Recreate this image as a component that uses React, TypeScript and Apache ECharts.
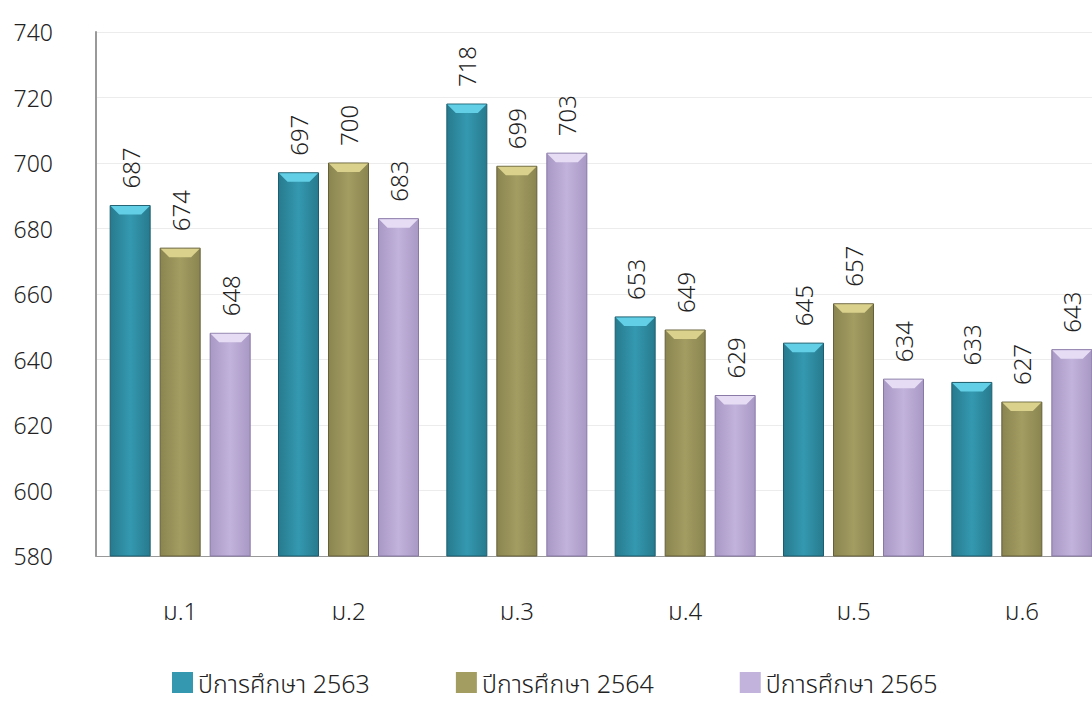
import React, { useEffect, useRef } from "react";
import * as echarts from "echarts";

const categories = ["ม.1", "ม.2", "ม.3", "ม.4", "ม.5", "ม.6"];
const seriesNames = ["ปีการศึกษา 2563", "ปีการศึกษา 2564", "ปีการศึกษา 2565"];
const y2563 = [687, 697, 718, 653, 645, 633];
const y2564 = [674, 700, 699, 649, 657, 627];
const y2565 = [648, 683, 703, 629, 634, 643];
const yTicks = { min: 580, max: 740, interval: 20 };

const FONT = "'Noto Sans', 'Noto Sans Thai', Loma, Garuda, 'DejaVu Sans', sans-serif";

const palettes = [
  { edge: "#277a8e", mid: "#3499b0", top: "#62cfe6", border: "#1d5e6e" },
  { edge: "#8a8450", mid: "#a39d62", top: "#d9d18c", border: "#66603a" },
  { edge: "#a898c4", mid: "#c2b3dc", top: "#e6ddf4", border: "#8878a6" },
];

export default function App() {
  const ref = useRef<HTMLDivElement>(null);
  useEffect(() => {
    const chart = echarts.init(ref.current!, null, { renderer: "svg" });
    const all = [y2563, y2564, y2565];
    const barW = 40;
    const gap = 10;
    const makeRender = (si: number) => (params: any, api: any) => {
      const idx = api.value(0);
      const val = api.value(1);
      const p = api.coord([idx, val]);
      const b = api.coord([idx, yTicks.min]);
      const cx = p[0] + (si - 1) * (barW + gap);
      const x0 = cx - barW / 2;
      const top = p[1];
      const h = b[1] - top;
      const pal = palettes[si];
      const bev = 9;
      return {
        type: "group",
        children: [
          {
            type: "rect",
            shape: { x: x0, y: top, width: barW, height: h },
            style: {
              fill: new echarts.graphic.LinearGradient(0, 0, 1, 0, [
                { offset: 0, color: pal.edge },
                { offset: 0.5, color: pal.mid },
                { offset: 1, color: pal.edge },
              ]),
              stroke: pal.border,
              lineWidth: 1,
            },
          },
          {
            type: "polygon",
            shape: {
              points: [
                [x0 + 0.5, top + 0.5],
                [x0 + barW - 0.5, top + 0.5],
                [x0 + barW - bev, top + bev],
                [x0 + bev, top + bev],
              ],
            },
            style: { fill: pal.top },
          },
          {
            type: "text",
            x: cx,
            y: top - 17,
            rotation: Math.PI / 2,
            style: {
              text: String(val),
              fill: "#222",
              fontSize: 24,
              fontWeight: 300,
              fontFamily: FONT,
              align: "left",
              verticalAlign: "middle",
            },
          },
        ],
      };
    };
    chart.setOption({
      animation: false,
      textStyle: { fontFamily: FONT },
      grid: { left: 96, top: 32, bottom: 146, right: 0, containLabel: false },
      legend: {
        top: 664,
        left: 167,
        itemWidth: 21,
        itemHeight: 21,
        itemGap: 86,
        icon: "rect",
        textStyle: { fontSize: 25, lineHeight: 27, fontWeight: 300, color: "#222", fontFamily: FONT },
        data: seriesNames,
      },
      xAxis: {
        type: "category",
        data: categories,
        axisLine: { show: true, lineStyle: { color: "#999", width: 1 } },
        axisTick: { show: false },
        axisLabel: { fontSize: 24, fontWeight: 300, color: "#222", margin: 42, fontFamily: FONT },
      },
      yAxis: {
        type: "value",
        min: yTicks.min,
        max: yTicks.max,
        interval: yTicks.interval,
        axisLine: { show: true, lineStyle: { color: "#999", width: 2 } },
        axisTick: { show: false },
        splitLine: { lineStyle: { color: "#ececec", width: 1 } },
        axisLabel: {
          fontSize: 23,
          fontWeight: 300,
          color: "#222",
          margin: 43,
          fontFamily: FONT,
          padding: [0, 0, 10, 0],
        },
      },
      series: all.map((arr, si) => ({
        type: "custom",
        name: seriesNames[si],
        itemStyle: { color: palettes[si].mid },
        encode: { x: 0, y: 1 },
        data: arr.map((v, i) => [i, v]),
        renderItem: makeRender(si),
      })),
    });
    return () => chart.dispose();
  }, []);
  return (
    <div
      style={{ position: "fixed", left: 0, top: 0, width: 1092, height: 702, overflow: "hidden", background: "#fff" }}
    >
      <div ref={ref} style={{ width: 1106, height: 702 }} />
    </div>
  );
}
